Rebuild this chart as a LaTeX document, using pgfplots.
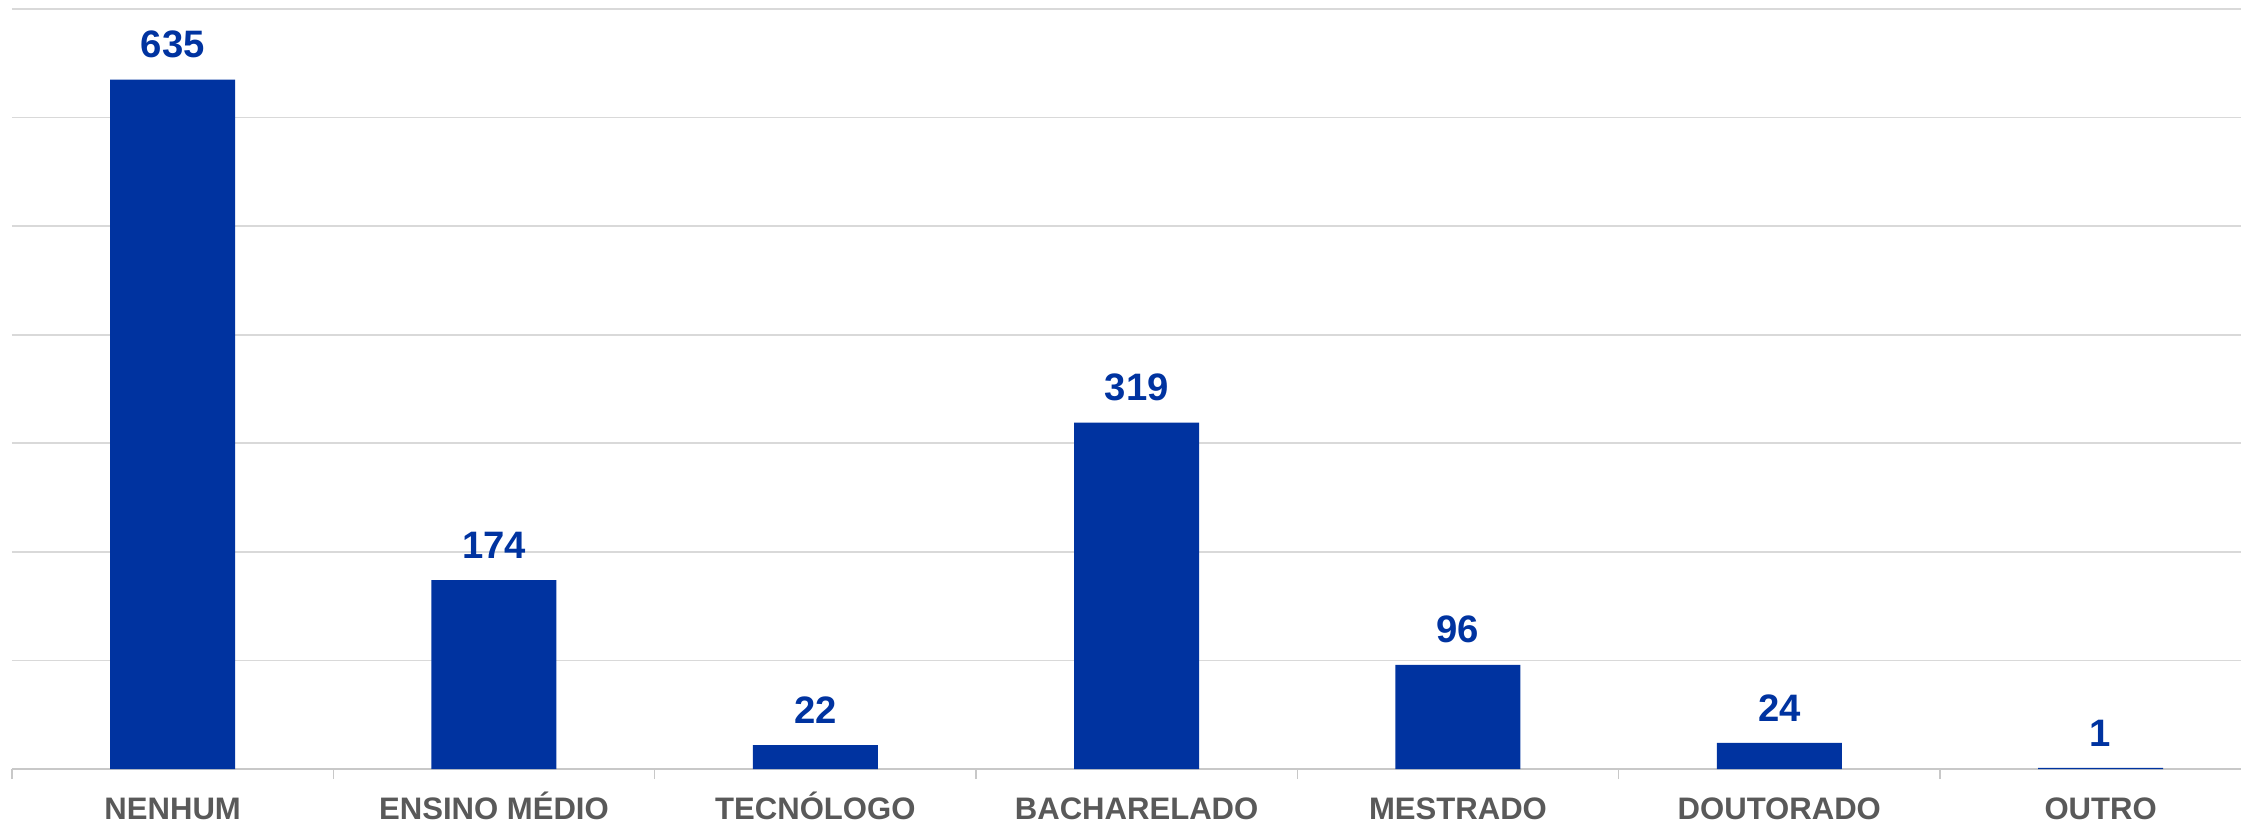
\documentclass[border=0pt]{standalone}
\usepackage{fontspec}
\setmainfont{Liberation Sans}
\usepackage{pgfplots}
\pgfplotsset{compat=1.18}
\definecolor{barblue}{HTML}{0033A0}
\definecolor{labgray}{HTML}{595959}
\definecolor{gridgray}{HTML}{D9D9D9}
\definecolor{axgray}{HTML}{C8C8C8}

\begin{document}
\begin{tikzpicture}
\begin{axis}[
    scale only axis,
    width=557.25bp, height=190bp,
    xmin=-0.5, xmax=6.437,
    ymin=0, ymax=700,
    ybar, bar width=31.25bp,
    clip=false,
    /pgf/number format/assume math mode=true,
    axis x line*=bottom, axis y line*=left,
    y axis line style={draw=none},
    x axis line style={draw=axgray, line width=0.5bp},
    ytick={0,100,...,700}, yticklabels={},
    ymajorgrids,
    grid style={draw=gridgray, line width=0.42bp},
    major tick length=0pt,
    tick align=outside,
    tick style={draw=axgray, line width=0.4bp},
    xtick={0,...,6},
    xticklabels={NENHUM, ENSINO MÉDIO, TECNÓLOGO, BACHARELADO, MESTRADO, DOUTORADO, OUTRO},
    xticklabel style={font=\fontsize{7.8}{9}\selectfont\bfseries, text=labgray, anchor=base, yshift=-12.5bp},
    extra x ticks={-0.5,0.5,...,5.5},
    extra x tick labels={},
    extra x tick style={major tick length=2.5bp, grid=none},
    nodes near coords={\pgfmathprintnumber[assume math mode=true]{\pgfplotspointmeta}},
    every node near coord/.append style={font=\fontsize{9.6}{11}\selectfont\bfseries, text=barblue, anchor=south, inner sep=0pt, yshift=5.2bp},
]
\addplot[fill=barblue, draw=none] coordinates {
    (0,635) (1,174) (2,22) (3,319) (4,96) (5,24) (6,1)
};
\coordinate (sw) at (rel axis cs:0,0);
\coordinate (ne) at (rel axis cs:1,1);
\end{axis}
\pgfresetboundingbox
\path[use as bounding box] ([shift={(-3bp,-14.25bp)}]sw) rectangle ([shift={(0bp,2.25bp)}]ne);
\end{tikzpicture}
\end{document}
